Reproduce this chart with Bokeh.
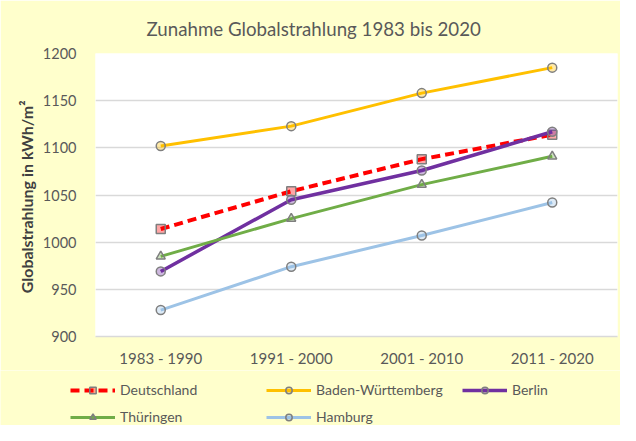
from bokeh.plotting import figure
from bokeh.layouts import column
from bokeh.models import Legend, LegendItem, FactorRange, Range1d, SingleIntervalTicker
from bokeh.embed import file_html
from bokeh.resources import INLINE

categories = ["1983 - 1990", "1991 - 2000", "2001 - 2010", "2011 - 2020"]
deutschland = [1014, 1054, 1088, 1114]
baden_wuerttemberg = [1102, 1123, 1158, 1185]
berlin = [969, 1045, 1076, 1117]
thueringen = [985, 1025, 1061, 1091]
hamburg = [928, 974, 1007, 1042]

FONT = "Lato"
TXT = "#595959"
BG = "#FFFFCC"

p = figure(x_range=FactorRange(*categories), y_range=Range1d(900, 1200),
           width=620, height=370, output_backend="svg", toolbar_location=None,
           min_border_left=95, min_border_right=3, min_border_top=53, min_border_bottom=34,
           background_fill_color="white", border_fill_color=BG,
           title="Zunahme Globalstrahlung 1983 bis 2020")
p.frame_align = False
p.outline_line_color = None
p.title.align = "left"
p.title.offset = 51
p.title.standoff = 27
p.title.text_font = FONT
p.title.text_font_size = "18.7px"
p.title.text_font_style = "normal"
p.title.text_color = TXT

p.xgrid.grid_line_color = None
p.ygrid.grid_line_color = "#D9D9D9"
p.ygrid.grid_line_width = 1.5
p.yaxis.ticker = SingleIntervalTicker(interval=50)
for ax in (p.xaxis, p.yaxis):
    ax.axis_line_color = None
    ax.major_tick_line_color = None
    ax.minor_tick_line_color = None
    ax.major_label_text_font = FONT
    ax.major_label_text_color = TXT
p.xaxis.major_label_text_font_size = "15px"
p.yaxis.major_label_text_font_size = "14.5px"
p.xaxis.axis_line_color = "#D9D9D9"
p.xaxis.axis_line_width = 1.5
p.xaxis.major_label_standoff = 6
p.yaxis.major_label_standoff = 13
p.yaxis.axis_label = "Globalstrahlung  in kWh/m²"
p.yaxis.axis_label_text_font = FONT
p.yaxis.axis_label_text_font_size = "16px"
p.yaxis.axis_label_text_font_style = "bold"
p.yaxis.axis_label_text_color = "#404040"
p.yaxis.axis_label_standoff = 4

series = [
    ("Deutschland", deutschland, "#FF0000", "square", 4, "9 5"),
    ("Baden-Württemberg", baden_wuerttemberg, "#FFC000", "circle", 3, "solid"),
    ("Berlin", berlin, "#7030A0", "circle", 3.5, "solid"),
    ("Thüringen", thueringen, "#70AD47", "triangle", 3, "solid"),
    ("Hamburg", hamburg, "#9DC3E6", "circle", 3, "solid"),
]

# legend strip below the chart (its own renderers lie outside its visible range)
pl = figure(x_range=FactorRange(*categories), y_range=Range1d(0, 1), width=620, height=55,
            output_backend="svg", toolbar_location=None,
            x_axis_location=None, y_axis_location=None,
            min_border_left=0, min_border_right=0, min_border_top=0, min_border_bottom=0,
            background_fill_color=BG, border_fill_color=BG)
pl.frame_align = False
pl.outline_line_color = None
pl.grid.visible = False

items = {}
for name, vals, col, mk, lw, dash in series:
    p.line(categories, vals, line_color=col, line_width=lw, line_dash=dash)
    p.scatter(categories, vals, marker=mk, size=9, line_color="#7F7F7F", line_width=1.5,
              fill_color=col, fill_alpha=0.35)
    ll = pl.line(categories, vals, line_color=col, line_width=lw, line_dash=dash)
    ls = pl.scatter(categories, vals, marker=mk, size=9, line_color="#7F7F7F", line_width=1.5,
                    fill_color=col, fill_alpha=0.35)
    items[name] = LegendItem(label=name, renderers=[ll, ls])

# column-major filling: 2 rows x 3 columns
order = ["Deutschland", "Thüringen", "Baden-Württemberg", "Hamburg", "Berlin"]
legend = Legend(items=[items[n] for n in order], ncols=3, nrows=2, location=(70, 0),
                glyph_width=45, glyph_height=16, label_height=16, label_width=136,
                label_standoff=5, spacing=10, padding=0, margin=0,
                border_line_color=None, background_fill_alpha=0,
                label_text_font=FONT, label_text_font_size="14px", label_text_color=TXT)
pl.add_layout(legend, "center")

layout = column(p, pl, spacing=0)
open("out.html", "w").write(file_html(layout, INLINE))
